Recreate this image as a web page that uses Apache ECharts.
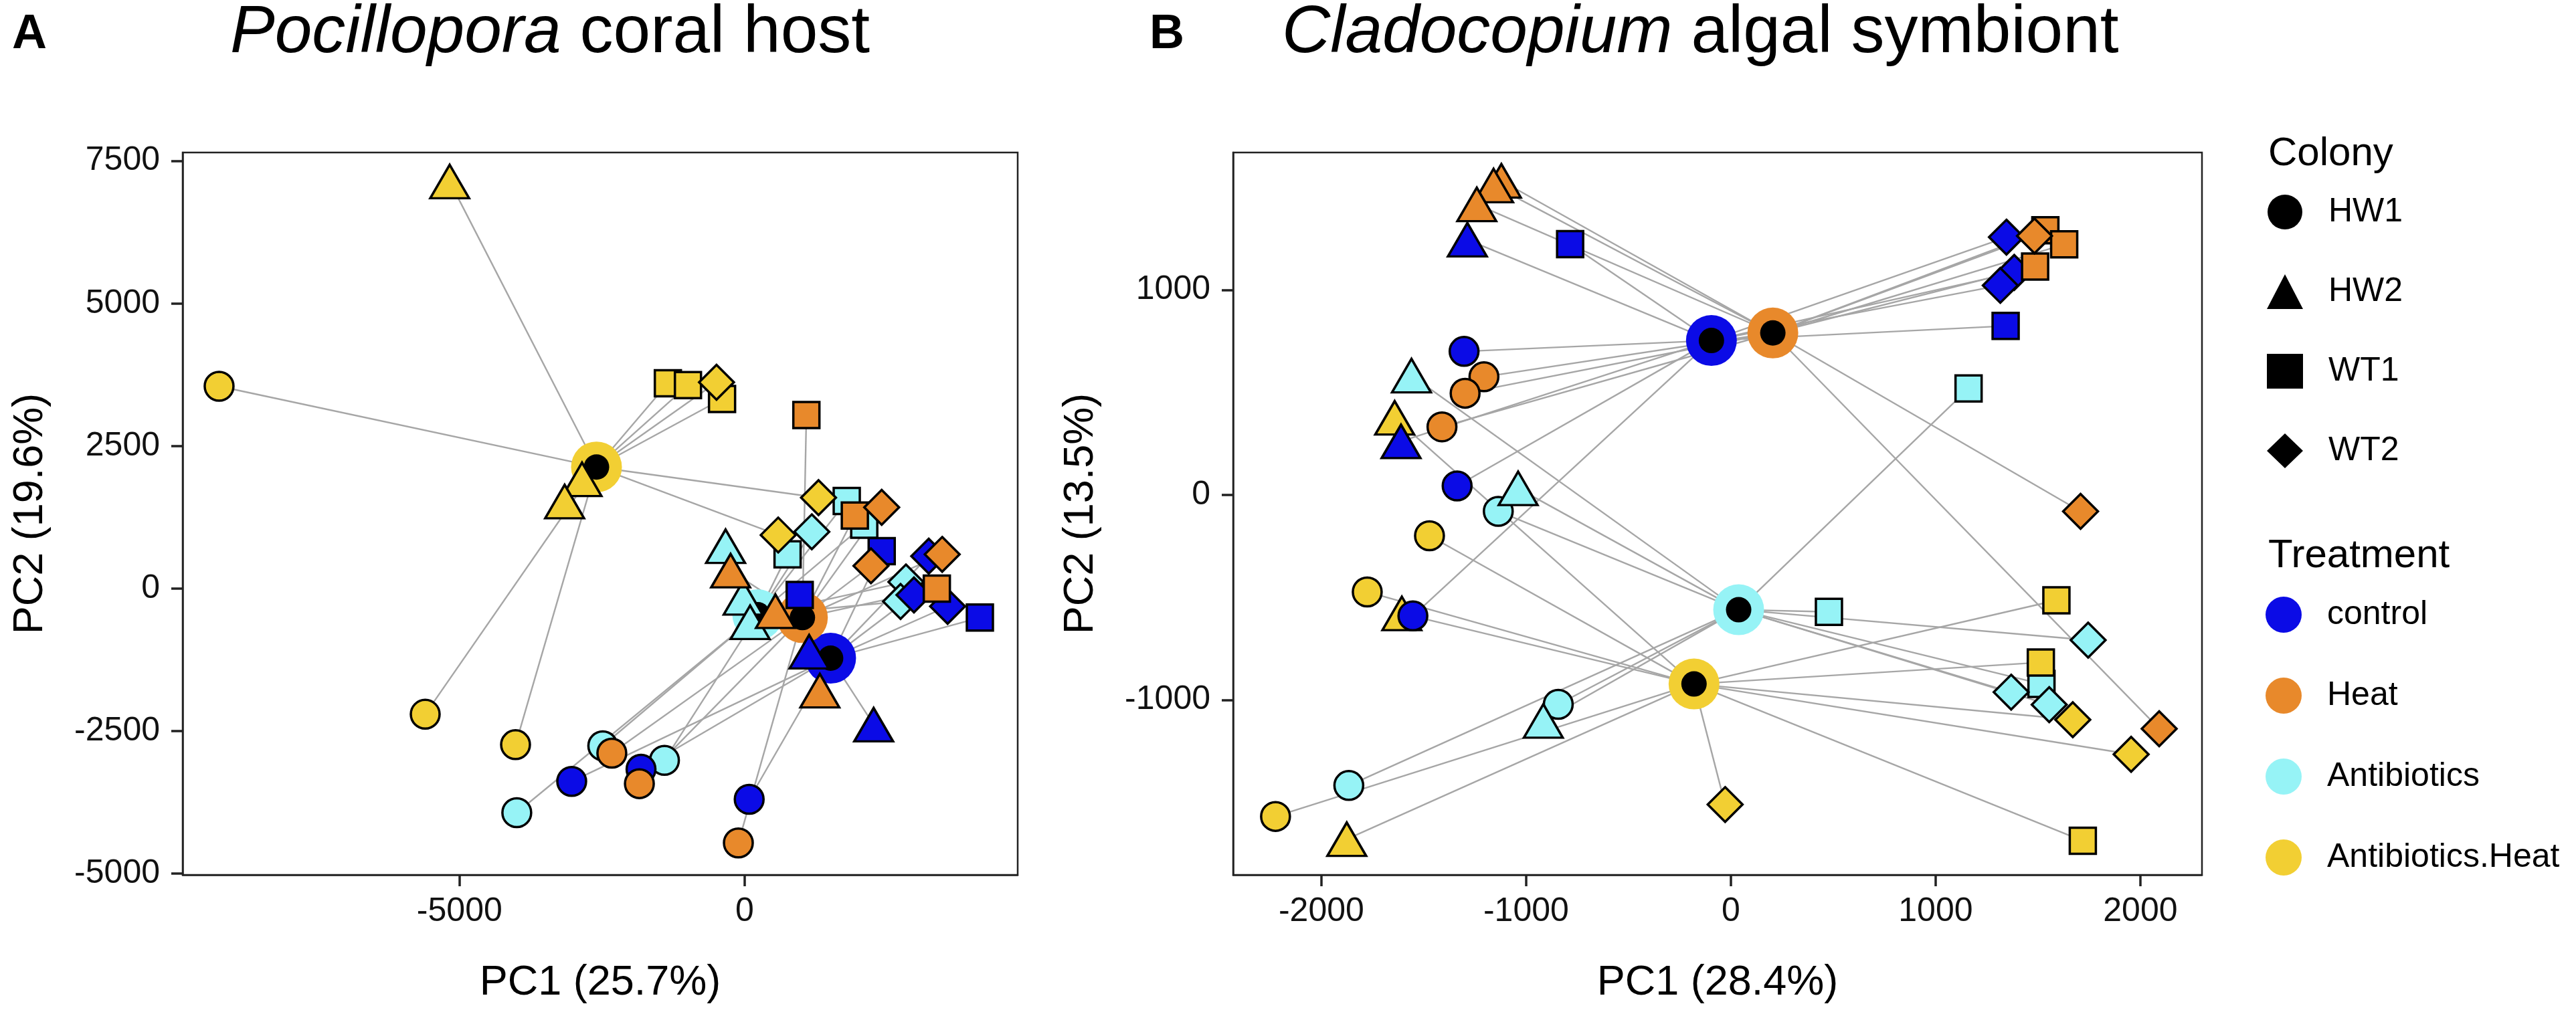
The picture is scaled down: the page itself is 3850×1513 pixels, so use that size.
<!DOCTYPE html>
<html><head><meta charset="utf-8">
<script src="https://cdn.jsdelivr.net/npm/echarts@6/dist/echarts.min.js"></script>
<style>html,body{margin:0;padding:0;background:#fff}#c{width:3850px;height:1513px}</style>
</head><body><div id="c"></div>
<script>
// ---------- DATA ----------
const colonies = ['HW1', 'HW2', 'WT1', 'WT2'];
const treatments = ['control', 'Heat', 'Antibiotics', 'Antibiotics.Heat'];

// Panel A: Pocillopora coral host
const hostControlColony = ['HW1','HW1','HW1','HW2','HW2','WT1','WT1','WT1','WT2','WT2','WT2'];
const hostControlPC1 = [-3033, -1817, 80, 1131, 2263, 2404, 966, 4126, 3229, 2970, 3560];
const hostControlPC2 = [-3384, -3169, -3697, -1108, -2388, 655, -113, -510, 569, -113, -312];

const hostHeatColony = ['HW1','HW1','HW1','HW2','HW2','HW2','WT1','WT1','WT1','WT2','WT2','WT2'];
const hostHeatPC1 = [-2329, -1846, -110, -246, 540, 1319, 1083, 1933, 3371, 2404, 2216, 3465];
const hostHeatPC2 = [-2887, -3423, -4462, 313, -398, -1791, 3045, 1280, 0, 1424, 399, 599];

const hostAntibioticsColony = ['HW1','HW1','HW1','HW2','HW2','HW2','WT1','WT1','WT1','WT2','WT2','WT2'];
const hostAntibioticsPC1 = [-3996, -2488, -1406, -334, -26, 96, 1791, 2098, 753, 1178, 2829, 2735];
const hostAntibioticsPC2 = [-3932, -2758, -3013, 742, -163, -591, 1537, 1120, 599, 995, 115, -227];

const hostAntiHeatColony = ['HW1','HW1','HW1','HW2','HW2','HW2','WT1','WT1','WT1','WT2','WT2','WT2'];
const hostAntiHeatPC1 = [-9217, -5602, -4018, -5173, -2852, -3157, -1346, -994, -396, -493, 1296, 589];
const hostAntiHeatPC2 = [3548, -2205, -2739, 7140, 1917, 1526, 3600, 3568, 3325, 3619, 1594, 939];

// centroids (order = treatments)
const hostCentroidPC1 = [1508, 1013, 230, -2598];
const hostCentroidPC2 = [-1222, -510, -460, 2132];

const hostXRange = [-9856, 4789];
const hostYRange = [-5023, 7649];
const hostXTicks = [-5000, 0];
const hostYTicks = [-5000, -2500, 0, 2500, 5000, 7500];

// Panel B: Cladocopium algal symbiont
const symControlColony = ['HW1','HW1','HW1','HW2','HW2','WT1','WT1','WT2','WT2','WT2'];
const symControlPC1 = [-1303, -1337, -1553, -1287, -1611, -785, 1342, 1346, 1384, 1316];
const symControlPC2 = [700, 44, -590, 1245, 261, 1223, 824, 1257, 1085, 1022];

const symHeatColony = ['HW1','HW1','HW1','HW2','HW2','HW2','WT1','WT1','WT1','WT2','WT2','WT2'];
const symHeatPC1 = [-1206, -1298, -1411, -1121, -1159, -1241, 1536, 1628, 1486, 1483, 1708, 2092];
const symHeatPC2 = [576, 496, 332, 1532, 1509, 1417, 1291, 1222, 1114, 1263, -80, -1140];

const symAntibioticsColony = ['HW1','HW1','HW1','HW2','HW2','HW2','WT1','WT1','WT1','WT2','WT2','WT2'];
const symAntibioticsPC1 = [-1136, -843, -1866, -1560, -1039, -916, 1161, 479, 1517, 1745, 1369, 1555];
const symAntibioticsPC2 = [-80, -1021, -1417, 582, 32, -1102, 519, -570, -922, -708, -962, -1023];

const symAntiHeatColony = ['HW1','HW1','HW1','HW2','HW2','HW2','WT1','WT1','WT1','WT2','WT2','WT2'];
const symAntiHeatPC1 = [-1472, -1776, -2224, -1642, -1607, -1876, 1590, 1514, 1719, 1670, 1955, -28];
const symAntiHeatPC2 = [-199, -473, -1568, 376, -578, -1679, -514, -817, -1687, -1096, -1265, -1510];

const symCentroidPC1 = [-95, 205, 38, -180];
const symCentroidPC2 = [753, 790, -560, -922];

const symXRange = [-2431, 2301];
const symYRange = [-1853, 1670];
const symXTicks = [-2000, -1000, 0, 1000, 2000];
const symYTicks = [-1000, 0, 1000];

// ---------- STYLE ----------
const FONT = '"Liberation Sans", Arial, Helvetica, sans-serif';
const colors = {control: '#0B0BE6', Heat: '#E8892B', Antibiotics: '#96F3F6', 'Antibiotics.Heat': '#F2CF33'};
const shapeSymbol = {HW1: 'circle', HW2: 'triangle', WT1: 'rect', WT2: 'diamond'};
const shapeSize = {HW1: [43, 43], HW2: [58, 50], WT1: [39, 39], WT2: [52, 52]};
const drawOrder = ['Antibiotics', 'Antibiotics.Heat', 'control', 'Heat'];

const panels = [
  {
    groups: {
      control: [hostControlPC1, hostControlPC2, hostControlColony],
      Heat: [hostHeatPC1, hostHeatPC2, hostHeatColony],
      Antibiotics: [hostAntibioticsPC1, hostAntibioticsPC2, hostAntibioticsColony],
      'Antibiotics.Heat': [hostAntiHeatPC1, hostAntiHeatPC2, hostAntiHeatColony]
    },
    cent: [hostCentroidPC1, hostCentroidPC2]
  },
  {
    groups: {
      control: [symControlPC1, symControlPC2, symControlColony],
      Heat: [symHeatPC1, symHeatPC2, symHeatColony],
      Antibiotics: [symAntibioticsPC1, symAntibioticsPC2, symAntibioticsColony],
      'Antibiotics.Heat': [symAntiHeatPC1, symAntiHeatPC2, symAntiHeatColony]
    },
    cent: [symCentroidPC1, symCentroidPC2]
  }
];

const series = [];
panels.forEach((p, pi) => {
  // spider lines
  const segs = [];
  treatments.forEach((t, ti) => {
    const [xs, ys] = p.groups[t];
    const c = [p.cent[0][ti], p.cent[1][ti]];
    xs.forEach((x, i) => segs.push({coords: [[x, ys[i]], c]}));
  });
  series.push({
    type: 'lines', coordinateSystem: 'cartesian2d', xAxisIndex: pi, yAxisIndex: pi,
    data: segs, silent: true, z: 1,
    lineStyle: {color: '#a6a6a6', width: 2.4, opacity: 1}
  });
  // centroid rings
  series.push({
    type: 'scatter', xAxisIndex: pi, yAxisIndex: pi, silent: true, z: 2,
    symbol: 'circle', symbolSize: 76,
    data: treatments.map((t, ti) => ({value: [p.cent[0][ti], p.cent[1][ti]], itemStyle: {color: colors[t], opacity: 1}}))
  });
  series.push({
    type: 'scatter', xAxisIndex: pi, yAxisIndex: pi, silent: true, z: 3,
    symbol: 'circle', symbolSize: 38, itemStyle: {color: '#000', opacity: 1},
    data: treatments.map((t, ti) => [p.cent[0][ti], p.cent[1][ti]])
  });
  // samples
  drawOrder.forEach(t => {
    const [xs, ys, cols] = p.groups[t];
    series.push({
      type: 'scatter', name: (pi ? 'B ' : 'A ') + t, xAxisIndex: pi, yAxisIndex: pi, z: 4,
      itemStyle: {color: colors[t], borderColor: '#000', borderWidth: 3.5, opacity: 1},
      emphasis: {disabled: true},
      data: xs.map((x, i) => ({value: [x, ys[i]], symbol: shapeSymbol[cols[i]], symbolSize: shapeSize[cols[i]]}))
    });
  });
});

// legend-only series
colonies.forEach(c => series.push({type: 'scatter', name: c, data: [], symbol: shapeSymbol[c], itemStyle: {color: '#000', opacity: 1}}));
treatments.forEach(t => series.push({type: 'scatter', name: t, data: [], symbol: 'circle', itemStyle: {color: colors[t], opacity: 1}}));

function xAxis(gi, range, ticks, name) {
  return {
    gridIndex: gi, type: 'value', min: range[0], max: range[1],
    name: name, nameLocation: 'middle', nameGap: 130,
    nameTextStyle: {fontSize: 63, fontFamily: FONT, color: '#000'},
    axisLine: {show: true, onZero: false, lineStyle: {color: '#222', width: 2.5}},
    axisTick: {show: true, length: 17, customValues: ticks, lineStyle: {color: '#222', width: 3.5}},
    axisLabel: {customValues: ticks, fontSize: 50, margin: 30, color: '#111', fontFamily: FONT, formatter: v => String(v)},
    splitLine: {show: false}
  };
}
function yAxis(gi, range, ticks, name) {
  return {
    gridIndex: gi, type: 'value', min: range[0], max: range[1],
    name: name, nameLocation: 'middle', nameGap: 196,
    nameTextStyle: {fontSize: 63, fontFamily: FONT, color: '#000'},
    axisLine: {show: true, onZero: false, lineStyle: {color: '#222', width: 2.5}},
    axisTick: {show: true, length: 17, customValues: ticks, lineStyle: {color: '#222', width: 3.5}},
    axisLabel: {customValues: ticks, fontSize: 50, margin: 34, color: '#111', fontFamily: FONT, formatter: v => String(v)},
    splitLine: {show: false}
  };
}

const titleFont = {fontSize: 100, fontFamily: FONT, fill: '#000'};
const option = {
  animation: false,
  backgroundColor: '#fff',
  grid: [
    {left: 273, top: 228, width: 1248, height: 1080, show: true, borderColor: '#222', borderWidth: 2.5, backgroundColor: '#fff'},
    {left: 1843, top: 228, width: 1448, height: 1080, show: true, borderColor: '#222', borderWidth: 2.5, backgroundColor: '#fff'}
  ],
  xAxis: [xAxis(0, hostXRange, hostXTicks, 'PC1 (25.7%)'), xAxis(1, symXRange, symXTicks, 'PC1 (28.4%)')],
  yAxis: [yAxis(0, hostYRange, hostYTicks, 'PC2 (19.6%)'), yAxis(1, symYRange, symYTicks, 'PC2 (13.5%)')],
  legend: [
    {
      data: colonies.map(c => ({name: c, icon: shapeSymbol[c], itemStyle: {color: '#000', opacity: 1}})),
      orient: 'vertical', left: 3388, top: 291, padding: 0,
      itemWidth: 54, itemHeight: 52, itemGap: 67, selectedMode: false,
      textStyle: {fontSize: 50, fontFamily: FONT, color: '#000', lineHeight: 52, padding: [0, 0, 0, 33]}
    },
    {
      data: treatments.map(t => ({name: t, icon: 'circle', itemStyle: {color: colors[t], opacity: 1}})),
      orient: 'vertical', left: 3386, top: 892, padding: 0,
      itemWidth: 58, itemHeight: 54, itemGap: 67, selectedMode: false,
      textStyle: {fontSize: 50, fontFamily: FONT, color: '#000', lineHeight: 54, padding: [0, 0, 0, 31]}
    }
  ],
  graphic: [
    {type: 'text', x: 18, y: 52, style: {text: 'A', fontSize: 72, fontWeight: 'bold', fontFamily: FONT, fill: '#000', verticalAlign: 'middle'}},
    {type: 'text', x: 1718, y: 52, style: {text: 'B', fontSize: 72, fontWeight: 'bold', fontFamily: FONT, fill: '#000', verticalAlign: 'middle'}},
    {type: 'text', x: 344, y: 50, style: Object.assign({text: '{i|Pocillopora} coral host', verticalAlign: 'middle',
      rich: {i: {fontStyle: 'italic', fontSize: 100, fontFamily: FONT}}}, titleFont)},
    {type: 'text', x: 1916, y: 50, style: Object.assign({text: '{i|Cladocopium} algal symbiont', verticalAlign: 'middle',
      rich: {i: {fontStyle: 'italic', fontSize: 100, fontFamily: FONT}}}, titleFont)},
    {type: 'text', x: 3390, y: 230, style: {text: 'Colony', fontSize: 60, fontFamily: FONT, fill: '#000', verticalAlign: 'middle'}},
    {type: 'text', x: 3390, y: 831, style: {text: 'Treatment', fontSize: 60, fontFamily: FONT, fill: '#000', verticalAlign: 'middle'}}
  ],
  series: series
};
echarts.init(document.getElementById('c'), null, {renderer: 'canvas'}).setOption(option);
</script></body></html>
